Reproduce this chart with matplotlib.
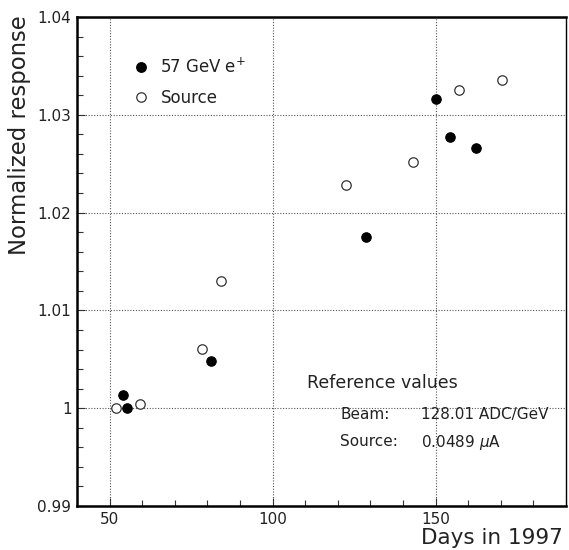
import matplotlib
matplotlib.use("Agg")
import matplotlib.pyplot as plt
from matplotlib.ticker import MultipleLocator, FixedLocator, FixedFormatter
from matplotlib.lines import Line2D

plt.rcParams['font.family'] = ['DejaVu Sans']
plt.rcParams['mathtext.fontset'] = 'dejavusans'

beam_days = [54.1, 55.2, 81.1, 128.5, 150.2, 154.3, 162.4]
beam_resp = [1.0013, 1.0000, 1.0048, 1.0175, 1.0316, 1.0277, 1.0266]
source_days = [52.0, 59.3, 78.2, 84.2, 122.4, 143.2, 157.3, 170.5]
source_resp = [1.0000, 1.0004, 1.0061, 1.0130, 1.0228, 1.0252, 1.0325, 1.0336]

x_ticks = [50, 100, 150]
x_labels = ["50", "100", "150"]
y_ticks = [0.99, 1.00, 1.01, 1.02, 1.03, 1.04]
y_labels = ["0.99", "1", "1.01", "1.02", "1.03", "1.04"]

txt = '#222222'
fig = plt.figure(figsize=(5.69, 5.50), dpi=100)
L, T, W, H = 77, 17, 489, 489
ax = fig.add_axes([L/569, 1-(T+H)/550, W/569, H/550])

ax.plot(beam_days, beam_resp, 'o', ms=6.8, mfc='black', mec='black', mew=0.8, zorder=3)
ax.plot(source_days, source_resp, 'o', ms=6.8, mfc='white', mec='#333333', mew=0.9, zorder=3)

ax.set_xlim(40, 190)
ax.set_ylim(0.99, 1.04)
ax.xaxis.set_major_locator(FixedLocator(x_ticks))
ax.xaxis.set_major_formatter(FixedFormatter(x_labels))
ax.xaxis.set_minor_locator(MultipleLocator(10))
ax.yaxis.set_major_locator(FixedLocator(y_ticks))
ax.yaxis.set_major_formatter(FixedFormatter(y_labels))
ax.yaxis.set_minor_locator(MultipleLocator(0.002))

ax.grid(True, which='major', linestyle=(0, (1, 1.5)), color='#555555', linewidth=0.8)
ax.tick_params(which='both', direction='in', top=False, right=False, colors='#333333',
               labelcolor=txt, labelsize=11, width=0.8)
ax.tick_params(which='major', length=6, pad=4)
ax.tick_params(which='minor', length=4)
for side in ['left', 'bottom', 'top']:
    ax.spines[side].set_linewidth(1.8)
ax.spines['right'].set_linewidth(1.0)

fig.text(563/569, 1-538/550, "Days in 1997", ha='right', va='center', fontsize=15.5, color=txt)
fig.text(20/569, 1-15/550, "Normalized response", rotation=90, ha='center', va='top',
         fontsize=16.4, color=txt)

handles = [Line2D([], [], marker='o', ls='none', ms=6.8, mfc='black', mec='black'),
           Line2D([], [], marker='o', ls='none', ms=6.8, mfc='white', mec='#333333', mew=0.9)]
ax.legend(handles, ["57 GeV e$^{+}$", "Source"], loc='upper left',
          bbox_to_anchor=(0.087, 0.948), frameon=False, fontsize=12,
          handlelength=0.8, handletextpad=0.75, labelspacing=0.75, labelcolor=txt)

def axpos(px, py):
    return ((px - L) / W, 1 - (py - T) / H)

ax.text(*axpos(307, 383), "Reference values", transform=ax.transAxes,
        ha='left', va='center', fontsize=12.5, color=txt)
ax.text(*axpos(340, 414), "Beam:", transform=ax.transAxes,
        ha='left', va='center', fontsize=11, color=txt)
ax.text(*axpos(421, 414), "128.01 ADC/GeV", transform=ax.transAxes,
        ha='left', va='center', fontsize=11, color=txt)
ax.text(*axpos(340, 442), "Source:", transform=ax.transAxes,
        ha='left', va='center', fontsize=11, color=txt)
ax.text(*axpos(421, 442), "0.0489 $\\mu$A", transform=ax.transAxes,
        ha='left', va='center', fontsize=11, color=txt)

fig.savefig("out.png", dpi=100)
